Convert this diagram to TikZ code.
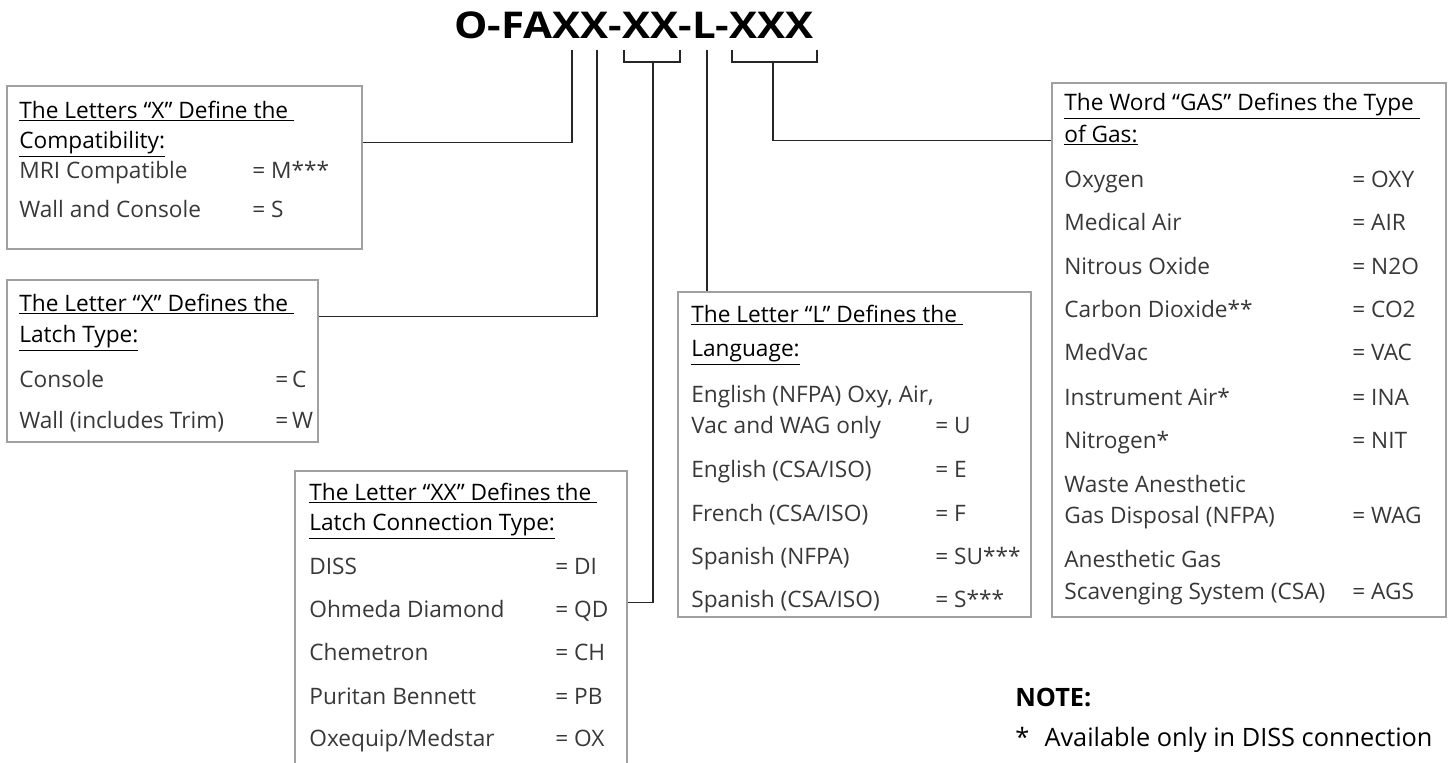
\documentclass[tikz,border=0pt]{standalone}
\usepackage{fontspec}
\setmainfont{Open Sans}
\usepackage{graphicx}
\usetikzlibrary{fit}
\definecolor{boxgray}{HTML}{A0A0A0}
\newcommand{\rowfont}{\fontsize{12.9}{15}\selectfont}
\newcommand{\notefont}{\fontsize{14.4}{17}\selectfont}
\begin{document}
\begin{tikzpicture}[x=0.02cm, y=-0.02cm,
    box/.style={draw=boxgray, line width=0.85pt, inner sep=0pt},
    wire/.style={draw=black!85, line width=0.75pt},
    head/.style={anchor=base west, inner sep=0pt, font=\rowfont},
    row/.style={anchor=base west, inner sep=0pt, font=\rowfont, text=black!78}]
  \useasboundingbox (0,0) rectangle (1449,762);
  \clip (0,0) rectangle (1449,762);
  % Part number on top
  \node[anchor=base, inner sep=0pt, font=\fontsize{21}{25}\selectfont\bfseries] (code) at (634,38)
    {\scalebox{1.14}[1]{O-FAXX-XX-L-XXX}};
  % Ticks and brackets under the part number
  \foreach \n/\x in {t1/572, t2/597, t4/707}{
    \coordinate (\n) at (\x,50);
  }
  \coordinate (b1l) at (624,50); \coordinate (b1r) at (680,50); \coordinate (b1m) at (653,62);
  \coordinate (b2l) at (732,50); \coordinate (b2r) at (817,50); \coordinate (b2m) at (773,62);
  \draw[wire] (b1l) -- ++(0,12) -| (b1r);
  \draw[wire] (b2l) -- ++(0,12) -| (b2r);

  % Compatibility box
  \node[box, fit={(7,86) (362,249)}] (compat) {};
  \node[head] (compat-h1) at (19,118) {\underline{The Letters “X” Define the\ }};
  \node[head] (compat-h2) at (19,148) {\underline{Compatibility:}};
  \foreach \y/\name/\val [count=\i] in {178/MRI Compatible/= M***, 217/Wall and Console/= S}{
    \node[row] (cmp-\i) at (19,\y) {\name};
    \node[row] (cmpv-\i) at (252,\y) {\val};
  }

  % Latch type box
  \node[box, fit={(7,280) (318,442)}] (latch) {};
  \node[head] (latch-h1) at (19,311) {\underline{The Letter “X” Defines the\ }};
  \node[head] (latch-h2) at (19,342) {\underline{Latch Type:}};
  \foreach \y/\name/\val [count=\i] in {387/Console/=\,C, 428/Wall (includes Trim)/=\,W}{
    \node[row] (lat-\i) at (19,\y) {\name};
    \node[row] (latv-\i) at (275,\y) {\val};
  }

  % Latch connection box (runs off the bottom)
  \node[box, fit={(295,471) (627,790)}] (conn) {};
  \node[head] (conn-h1) at (309,500) {\underline{The Letter “XX” Defines the\ }};
  \node[head] (conn-h2) at (309,530) {\underline{Latch Connection Type:}};
  \foreach \y/\name/\val [count=\i] in {574/DISS/= DI, 617/Ohmeda Diamond/= QD, 660/Chemetron/= CH,
      704/Puritan Bennett/= PB, 746/{Oxequip/Medstar}/= OX}{
    \node[row] (con-\i) at (309,\y) {\name};
    \node[row] (conv-\i) at (555,\y) {\val};
  }

  % Language box
  \node[box, fit={(678,292) (1031,617)}] (lang) {};
  \node[head] (lang-h1) at (691,322) {\underline{The Letter “L” Defines the\ }};
  \node[head] (lang-h2) at (691,356) {\underline{Language:}};
  \node[row] (lng-0) at (691,402) {English (NFPA) Oxy, Air,};
  \foreach \y/\name/\val [count=\i] in {433/Vac and WAG only/= U, 477/{English (CSA/ISO)}/= E,
      521/{French (CSA/ISO)}/= F, 564/Spanish (NFPA)/= SU***, 607/{Spanish (CSA/ISO)}/= S***}{
    \node[row] (lng-\i) at (691,\y) {\name};
    \node[row] (lngv-\i) at (935,\y) {\val};
  }

  % Gas box
  \node[box, fit={(1052,83) (1446,617)}] (gas) {};
  \node[head] (gas-h1) at (1064,110) {\underline{The Word “GAS” Defines the Type\ }};
  \node[head] (gas-h2) at (1064,142) {\underline{of Gas:}};
  \foreach \y/\name/\val [count=\i] in {187/Oxygen/= OXY, 230/Medical Air/= AIR, 274/Nitrous Oxide/= N2O,
      317/Carbon Dioxide**/= CO2, 360/MedVac/= VAC, 405/Instrument Air*/= INA, 448/Nitrogen*/= NIT,
      523/Gas Disposal (NFPA)/= WAG, 599/Scavenging System (CSA)/= AGS}{
    \node[row] (gs-\i) at (1064,\y) {\name};
    \node[row] (gsv-\i) at (1352,\y) {\val};
  }
  \node[row] (gs-w) at (1064,492) {Waste Anesthetic};
  \node[row] (gs-a) at (1064,567) {Anesthetic Gas};

  % Connectors from the part number to the boxes
  \path (compat.north east) ++(0,57) coordinate (c1);
  \path (latch.north east) ++(0,37) coordinate (c2);
  \path (conn.north east) ++(0,132) coordinate (c3);
  \path (gas.north west) ++(0,58) coordinate (c5);
  \draw[wire] (t1) |- (c1);
  \draw[wire] (t2) |- (c2);
  \draw[wire] (b1m) |- (c3);
  \draw[wire] (t4) -- (t4 |- lang.north);
  \draw[wire] (b2m) |- (c5);

  % Note
  \node[anchor=base west, inner sep=0pt, font=\notefont\bfseries] (note) at (1015,706) {NOTE:};
  \node[anchor=base west, inner sep=0pt, font=\notefont] (note-1) at (1015,746) {*\hspace{0.6em}Available only in DISS connection};
\end{tikzpicture}
\end{document}
